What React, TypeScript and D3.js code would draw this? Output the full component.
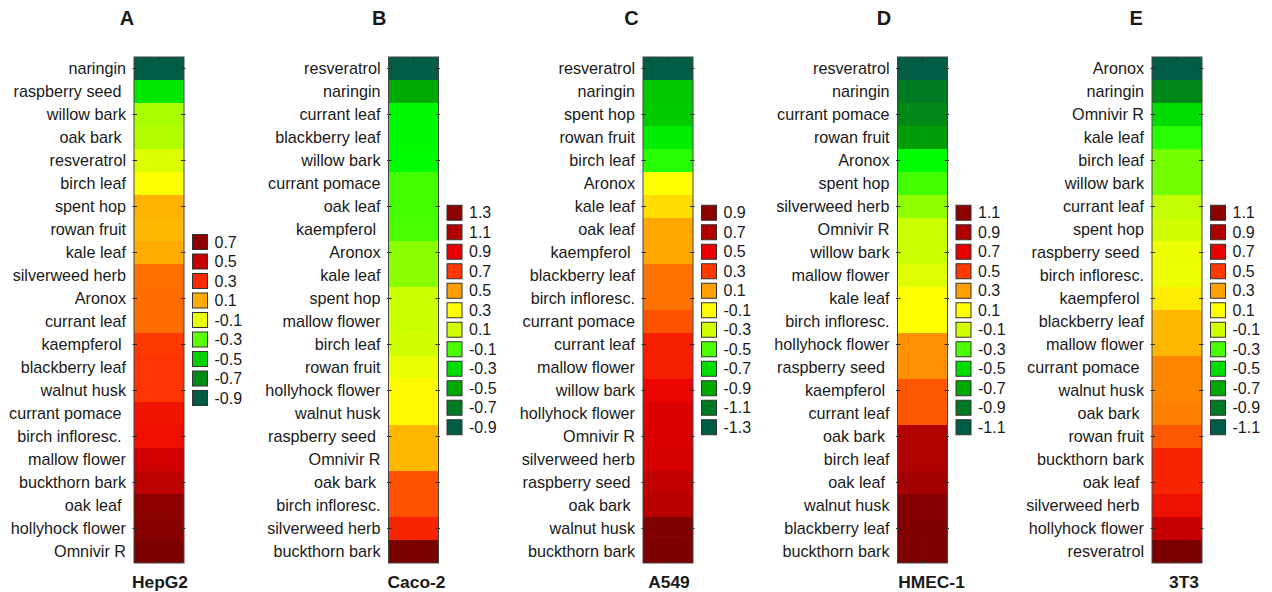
import * as d3 from "d3";

// ---- data ----
const namesA = [
  "naringin", "raspberry seed ", "willow bark", "oak bark ", "resveratrol", "birch leaf",
  "spent hop", "rowan fruit", "kale leaf", "silverweed herb", "Aronox", "currant leaf",
  "kaempferol ", "blackberry leaf", "walnut husk", "currant pomace ", "birch infloresc. ",
  "mallow flower", "buckthorn bark", "oak leaf ", "hollyhock flower", "Omnivir R",
];
const valuesA = [
  -0.9, -0.45, -0.22, -0.21, -0.14, -0.03, 0.09, 0.08, 0.1, 0.185, 0.19, 0.19,
  0.26, 0.27, 0.27, 0.36, 0.37, 0.47, 0.52, 0.7, 0.72, 0.78,
];
const levelsA = ["0.7", "0.5", "0.3", "0.1", "-0.1", "-0.3", "-0.5", "-0.7", "-0.9"];

const namesB = [
  "resveratrol", "naringin", "currant leaf", "blackberry leaf", "willow bark", "currant pomace",
  "oak leaf", "kaempferol ", "Aronox", "kale leaf", "spent hop", "mallow flower", "birch leaf",
  "rowan fruit", "hollyhock flower", "walnut husk", "raspberry seed ", "Omnivir R", "oak bark ",
  "birch infloresc.", "silverweed herb", "buckthorn bark",
];
const valuesB = [
  -0.9, -0.5, -0.22, -0.22, -0.21, -0.11, -0.11, -0.1, -0.01, -0.01, 0.08, 0.08, 0.09,
  0.2, 0.31, 0.31, 0.45, 0.45, 0.65, 0.65, 0.77, 1.41,
];
const levelsB = ["1.3", "1.1", "0.9", "0.7", "0.5", "0.3", "0.1", "-0.1", "-0.3", "-0.5", "-0.7", "-0.9"];

const namesC = [
  "resveratrol", "naringin", "spent hop", "rowan fruit", "birch leaf", "Aronox", "kale leaf",
  "oak leaf", "kaempferol ", "blackberry leaf", "birch infloresc.", "currant pomace",
  "currant leaf", "mallow flower", "willow bark", "hollyhock flower", "Omnivir R",
  "silverweed herb", "raspberry seed ", "oak bark ", "walnut husk", "buckthorn bark",
];
const valuesC = [
  -1.3, -0.79, -0.77, -0.66, -0.55, -0.1, -0.03, 0.08, 0.08, 0.19, 0.19, 0.25,
  0.39, 0.39, 0.48, 0.54, 0.55, 0.56, 0.64, 0.67, 0.97, 1.0,
];
const levelsC = ["0.9", "0.7", "0.5", "0.3", "0.1", "-0.1", "-0.3", "-0.5", "-0.7", "-0.9", "-1.1", "-1.3"];

const namesD = [
  "resveratrol", "naringin", "currant pomace", "rowan fruit", "Aronox", "spent hop",
  "silverweed herb", "Omnivir R", "willow bark", "mallow flower", "kale leaf", "birch infloresc.",
  "hollyhock flower", "raspberry seed ", "kaempferol ", "currant leaf", "oak bark ", "birch leaf",
  "oak leaf ", "walnut husk", "blackberry leaf", "buckthorn bark",
];
const valuesD = [
  -1.1, -0.9, -0.84, -0.75, -0.41, -0.31, -0.2, -0.12, -0.12, -0.04, 0.1, 0.1,
  0.33, 0.33, 0.44, 0.44, 0.9, 0.9, 0.97, 1.14, 1.16, 1.18,
];
const levelsD = ["1.1", "0.9", "0.7", "0.5", "0.3", "0.1", "-0.1", "-0.3", "-0.5", "-0.7", "-0.9", "-1.1"];

const namesE = [
  "Aronox", "naringin", "Omnivir R", "kale leaf", "birch leaf", "willow bark", "currant leaf",
  "spent hop", "raspberry seed ", "birch infloresc.", "kaempferol ", "blackberry leaf",
  "mallow flower", "currant pomace ", "walnut husk", "oak bark ", "rowan fruit", "buckthorn bark",
  "oak leaf ", "silverweed herb ", "hollyhock flower", "resveratrol",
];
const valuesE = [
  -1.1, -0.84, -0.51, -0.35, -0.24, -0.24, -0.13, -0.11, 0.02, 0.03, 0.14, 0.25,
  0.25, 0.35, 0.35, 0.36, 0.44, 0.57, 0.57, 0.64, 0.82, 1.21,
];
const levelsE = ["1.1", "0.9", "0.7", "0.5", "0.3", "0.1", "-0.1", "-0.3", "-0.5", "-0.7", "-0.9", "-1.1"];

const panelLetters = ["A", "B", "C", "D", "E"];
const cellLines = ["HepG2", "Caco-2", "A549", "HMEC-1", "3T3"];

const PANELS = [
  { names: namesA, values: valuesA, levels: levelsA },
  { names: namesB, values: valuesB, levels: levelsB },
  { names: namesC, values: valuesC, levels: levelsC },
  { names: namesD, values: valuesD, levels: levelsD },
  { names: namesE, values: valuesE, levels: levelsE },
].map((p, i) => ({ ...p, letter: panelLetters[i], cellLine: cellLines[i] }));

// ---- colour map (green - yellow - red spectrum) ----
const colormap = d3
  .scaleLinear<string>()
  .domain([0, 0.09, 0.18, 0.27, 0.315, 0.36, 0.45, 0.545, 0.636, 0.727, 0.818, 0.909, 1.0, 1.1])
  .range([
    "#005c44", "#007a22", "#00a800", "#00dd00", "#00ff00", "#44ff00", "#d0ff00",
    "#ffff00", "#ffa000", "#ff3800", "#e80000", "#b00000", "#8c0000", "#680000",
  ])
  .interpolate(d3.interpolateRgb)
  .clamp(true);

// ---- layout ----
const WIDTH = 1272;
const HEIGHT = 592;
const FONT = "'Liberation Sans', Arial, Helvetica, sans-serif";
const COL_X0 = 134;
const COL_STEP = 254.5;
const COL_W = 50;
const TOP = 57;
const BOTTOM = 563;
const LETTER_X0 = 127;
const LETTER_STEP = 252.3;
const TITLE_DX = [1, 3, 1, 9, 7];
const LEGEND_CY = 320;
const LEGEND_STEP = 19.5;
const SWATCH = 15;

function Panel({ panel, index }: { panel: (typeof PANELS)[number]; index: number }) {
  const x0 = COL_X0 + index * COL_STEP;
  const cx = x0 + COL_W / 2;
  const y = d3.scaleBand<string>().domain(panel.names).range([TOP, BOTTOM]);
  const levels = panel.levels.map(Number);
  const toT = d3
    .scaleLinear()
    .domain([d3.min(levels) as number, d3.max(levels) as number])
    .range([0, 1]);
  const fill = (v: number) => colormap(toT(v));

  const n = panel.levels.length;
  const ly = d3
    .scaleBand<string>()
    .domain(panel.levels)
    .range([LEGEND_CY - (n * LEGEND_STEP) / 2, LEGEND_CY + (n * LEGEND_STEP) / 2]);
  const lx = x0 + COL_W + 8.5;

  return (
    <g>
      <text
        x={LETTER_X0 + index * LETTER_STEP}
        y={25}
        textAnchor="middle"
        fontSize={20}
        fontWeight="bold"
        fill="#1a1a1a"
      >
        {panel.letter}
      </text>

      {panel.names.map((name, i) => (
        <g key={name}>
          <rect
            x={x0}
            y={y(name)}
            width={COL_W}
            height={y.bandwidth()}
            fill={fill(panel.values[i])}
          />
          <text
            x={x0 - 8}
            y={(y(name) as number) + y.bandwidth() / 2}
            dy="0.35em"
            textAnchor="end"
            fontSize={16.2}
            fill="#1a1a1a"
            style={{ whiteSpace: "pre" }}
          >
            {name}
          </text>
        </g>
      ))}

      {/* row ticks on both edges, every second row */}
      {panel.names
        .filter((_, i) => i % 2 === 0)
        .map((name) => {
          const ty = (y(name) as number) + y.bandwidth() / 2;
          return (
            <g key={"t" + name} stroke="#222" strokeWidth={1}>
              <line x1={x0 - 1.5} x2={x0 + 3} y1={ty} y2={ty} />
              <line x1={x0 + COL_W - 3} x2={x0 + COL_W + 1.5} y1={ty} y2={ty} />
            </g>
          );
        })}
      <line x1={cx} x2={cx} y1={TOP} y2={TOP + 3} stroke="#222" />
      <line x1={cx} x2={cx} y1={BOTTOM - 3} y2={BOTTOM} stroke="#222" />
      <rect x={x0} y={TOP} width={COL_W} height={BOTTOM - TOP} fill="none" stroke="#444" strokeWidth={1} />

      <text
        x={cx + TITLE_DX[index]}
        y={588}
        textAnchor="middle"
        fontSize={17.4}
        fontWeight="bold"
        fill="#1a1a1a"
      >
        {panel.cellLine}
      </text>

      {panel.levels.map((lab) => {
        const sy = (ly(lab) as number) + (LEGEND_STEP - SWATCH) / 2;
        return (
          <g key={"l" + lab}>
            <rect
              x={lx}
              y={sy}
              width={SWATCH}
              height={SWATCH}
              fill={colormap(toT(+lab))}
              stroke="#333"
              strokeWidth={1}
            />
            <text x={lx + SWATCH + 7} y={sy + SWATCH / 2} dy="0.35em" fontSize={16} fill="#1a1a1a">
              {lab}
            </text>
          </g>
        );
      })}
    </g>
  );
}

export default function App() {
  return (
    <svg
      width={WIDTH}
      height={HEIGHT}
      viewBox={`0 0 ${WIDTH} ${HEIGHT}`}
      style={{ position: "absolute", left: 0, top: 0, background: "#fff" }}
      fontFamily={FONT}
    >
      <rect width={WIDTH} height={HEIGHT} fill="#fff" />
      {PANELS.map((p, i) => (
        <Panel key={p.letter} panel={p} index={i} />
      ))}
    </svg>
  );
}
